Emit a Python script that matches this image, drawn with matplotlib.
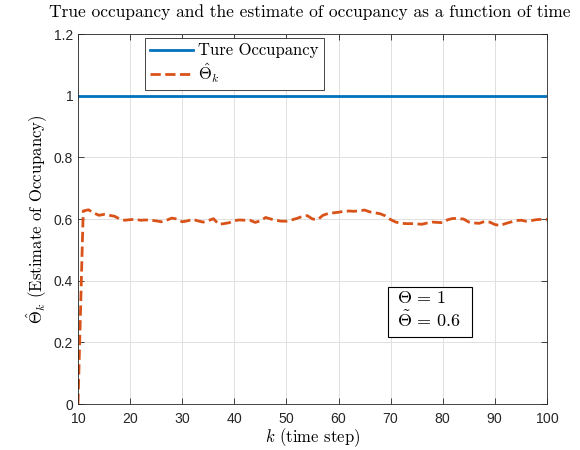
import numpy as np
import matplotlib
matplotlib.use('Agg')
import matplotlib.pyplot as plt
from matplotlib.patches import Rectangle
from matplotlib.ticker import FuncFormatter

# time steps and estimate
k_steps = list(range(10, 101))
theta_hat = [
    0.000, 0.626, 0.630, 0.620, 0.612, 0.615, 0.612, 0.609, 0.600, 0.596,
    0.598, 0.599, 0.596, 0.597, 0.596, 0.594, 0.591, 0.596, 0.603, 0.600,
    0.591, 0.594, 0.599, 0.594, 0.590, 0.595, 0.601, 0.583, 0.585, 0.588,
    0.595, 0.597, 0.596, 0.596, 0.589, 0.594, 0.605, 0.600, 0.596, 0.593,
    0.593, 0.597, 0.602, 0.608, 0.611, 0.600, 0.598, 0.612, 0.618, 0.620,
    0.622, 0.625, 0.626, 0.625, 0.627, 0.629, 0.623, 0.620, 0.617, 0.610,
    0.598, 0.590, 0.586, 0.585, 0.585, 0.584, 0.583, 0.587, 0.590, 0.589,
    0.588, 0.598, 0.602, 0.601, 0.600, 0.590, 0.587, 0.586, 0.592, 0.590,
    0.582, 0.579, 0.585, 0.590, 0.595, 0.596, 0.593, 0.595, 0.598, 0.599,
    0.599,
]
true_occ = [1.0] * len(k_steps)

plt.rcParams['mathtext.fontset'] = 'cm'
plt.rcParams['axes.formatter.use_mathtext'] = True
serif = 'cmr10'
dark = '#262626'

fig = plt.figure(figsize=(5.8, 4.5), dpi=100)
ax = fig.add_axes([0.1345, 0.1022, 0.8086, 0.8222])

ax.plot(k_steps, true_occ, color='#0072BD', lw=2, label='Ture Occupancy')
ax.plot(k_steps, theta_hat, color='#D95319', lw=2, ls='--', label=r'$\hat{\Theta}_k$')

ax.set_xlim(10, 100)
ax.set_ylim(0, 1.2)
ax.set_xticks(np.arange(10, 101, 10))
ax.set_yticks(np.arange(0, 1.21, 0.2))
ax.yaxis.set_major_formatter(FuncFormatter(lambda v, p: '%g' % round(v, 2)))
ax.grid(True, color='#e0e0e0', lw=0.7)
ax.set_axisbelow(True)
ax.tick_params(direction='in', length=4, width=0.6, labelsize=10, top=True, right=True,
               color=dark, labelcolor=dark)
ax.tick_params(axis='x', pad=6)
for lab in ax.get_xticklabels() + ax.get_yticklabels():
    lab.set_fontfamily('Liberation Sans')
for s in ax.spines.values():
    s.set_linewidth(0.6)
    s.set_color(dark)

ax.set_xlabel(r'$k$ (time step)', family=serif, fontsize=12, labelpad=0)
ax.set_ylabel(r'$\hat{\Theta}_k$ (Estimate of Occupancy)', family=serif, fontsize=12, labelpad=3)
ax.set_title('True occupancy and the estimate of occupancy as a function of time',
             family=serif, fontsize=12.5, x=0.495, pad=12)

leg = ax.legend(loc='upper left', bbox_to_anchor=(0.143, 0.989), fancybox=False,
                edgecolor=dark, framealpha=1, handlelength=2.6, handletextpad=0.3,
                borderpad=0.3, labelspacing=0.15, borderaxespad=0,
                prop={'family': serif, 'size': 12})
leg.get_frame().set_linewidth(0.6)

ax.add_patch(Rectangle((0.661, 0.181), 0.179, 0.135, transform=ax.transAxes,
                       fc='white', ec='black', lw=0.8, zorder=4))
ax.text(0.68, 0.254, '$\\Theta\\,=\\,1$\n$\\tilde{\\Theta}\\,=\\,0.6$', transform=ax.transAxes,
        fontsize=13, va='center', ha='left', linespacing=1.2, zorder=5)

fig.savefig('out.png', dpi=100)
